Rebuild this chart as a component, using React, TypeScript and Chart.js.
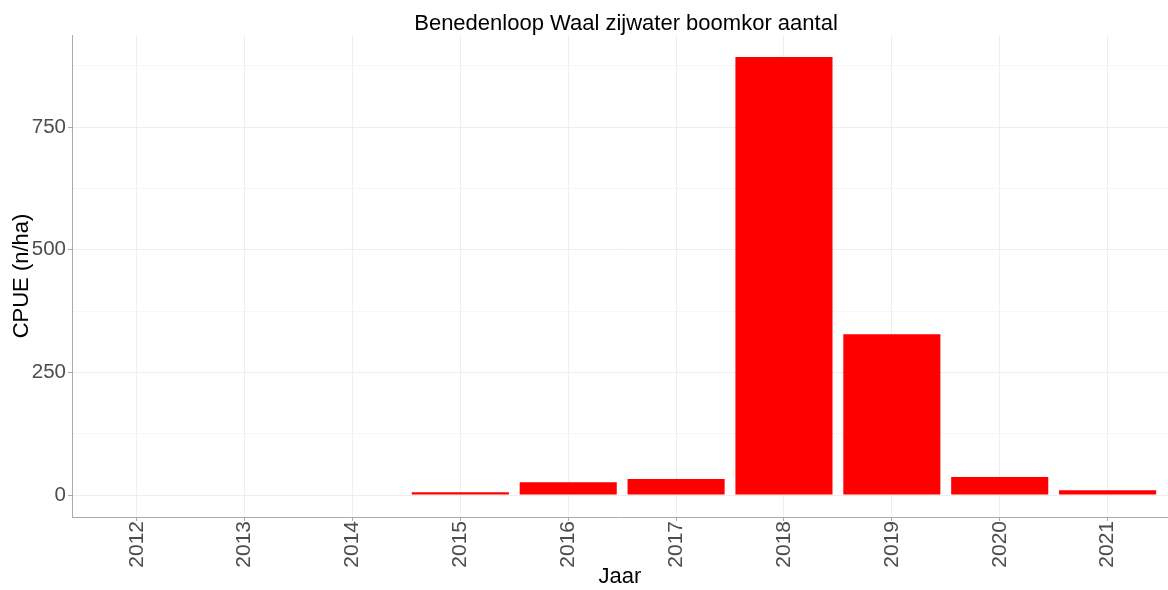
import React, { useEffect, useRef } from "react";
import { Chart, registerables } from "chart.js";

Chart.register(...registerables);

const chartTitle = "Benedenloop Waal zijwater boomkor aantal";
const xTitle = "Jaar";
const yTitle = "CPUE (n/ha)";
const years = [2012, 2013, 2014, 2015, 2016, 2017, 2018, 2019, 2020, 2021];
const cpue: (number | null)[] = [null, null, null, 6, 26, 33, 893, 328, 37, 10];
const yMajorTicks = [0, 250, 500, 750];
const yMinorTicks = [125, 375, 625, 875];

const FONT = "'Liberation Sans', Arial, sans-serif";

const titlePlugin = {
  id: "panelTitle",
  afterDraw(chart: any) {
    const { ctx, chartArea } = chart;
    ctx.save();
    ctx.font = `22px ${FONT}`;
    ctx.fillStyle = "#000000";
    ctx.textAlign = "center";
    ctx.textBaseline = "alphabetic";
    ctx.fillText(chartTitle, (chartArea.left + chartArea.right) / 2 + 6, 30);
    ctx.restore();
  },
};

export default function App() {
  const ref = useRef<HTMLCanvasElement | null>(null);

  useEffect(() => {
    document.body.style.margin = "0";
    const canvas = ref.current;
    if (!canvas) return;
    const yAll = [...yMajorTicks, ...yMinorTicks].sort((a, b) => a - b);
    const chart = new Chart(canvas, {
      type: "bar",
      data: {
        datasets: [
          {
            data: years.map((yr, i) => ({ x: yr, y: cpue[i] })) as any,
            backgroundColor: "#FF0000",
            borderWidth: 0,
            barPercentage: 0.9,
            categoryPercentage: 1.0,
          },
        ],
      },
      options: {
        animation: false,
        responsive: true,
        maintainAspectRatio: false,
        layout: { padding: { top: 35, left: 0, right: 0, bottom: 0 } },
        plugins: {
          legend: { display: false },
          tooltip: { enabled: false },
          title: { display: false },
        },
        scales: {
          x: {
            type: "linear",
            min: 2011.4,
            max: 2021.56,
            offset: false,
            afterBuildTicks: (scale: any) => {
              scale.ticks = years.map((v) => ({ value: v }));
            },
            afterFit: (scale: any) => {
              scale.height = 73;
            },
            ticks: {
              autoSkip: false,
              maxRotation: 90,
              minRotation: 90,
              padding: 0,
              color: "#4D4D4D",
              font: { family: FONT, size: 21 },
              callback: (v: any) => String(v),
            },
            grid: {
              offset: false,
              color: "#EFEFEF",
              lineWidth: 1,
              tickLength: 4,
              tickColor: "#AAAAAA",
            },
            border: { display: true, color: "#AAAAAA", width: 1 },
            title: {
              display: true,
              text: xTitle,
              color: "#000000",
              font: { family: FONT, size: 22 },
              padding: { top: 0, bottom: 0 },
            },
          },
          y: {
            type: "linear",
            min: -44.65,
            max: 937.65,
            afterBuildTicks: (scale: any) => {
              scale.ticks = yAll.map((v) => ({ value: v }));
            },
            afterFit: (scale: any) => {
              scale.width = 72;
            },
            ticks: {
              autoSkip: false,
              padding: 2,
              color: "#4D4D4D",
              font: { family: FONT, size: 20.5 },
              callback: (v: any) => (yMajorTicks.includes(Number(v)) ? String(v) : ""),
            },
            grid: {
              color: (c: any) =>
                c.tick && yMajorTicks.includes(c.tick.value) ? "#EDEDED" : "#F6F6F6",
              lineWidth: 1,
              tickLength: 4,
              tickColor: (c: any) =>
                c.tick && yMajorTicks.includes(c.tick.value) ? "#AAAAAA" : "rgba(0,0,0,0)",
            },
            border: { display: true, color: "#AAAAAA", width: 1 },
            title: {
              display: true,
              text: yTitle,
              color: "#000000",
              font: { family: FONT, size: 22 },
              padding: { top: 9, bottom: 0 },
            },
          },
        },
      },
      plugins: [titlePlugin],
    } as any);
    return () => chart.destroy();
  }, []);

  return (
    <div style={{ width: 1168, height: 590, position: "relative" }}>
      <canvas ref={ref} />
    </div>
  );
}
